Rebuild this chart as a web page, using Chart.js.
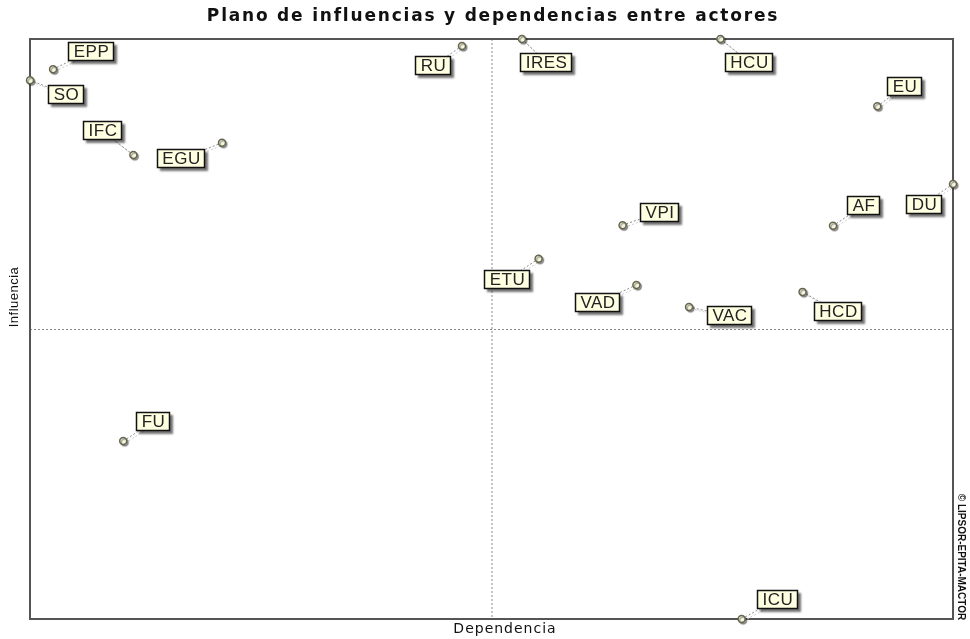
<!DOCTYPE html>
<html>
<head>
<meta charset="utf-8">
<script src="https://cdn.jsdelivr.net/npm/chart.js@4.4.1/dist/chart.umd.min.js"></script>
<style>
  body { margin: 0; background: #fff; }
</style>
</head>
<body>
<canvas id="actorsChart" width="970" height="639"></canvas>
<script>
// ---- DATA ----
const actors = ["EPP", "SO", "IFC", "EGU", "RU", "IRES", "HCU", "EU", "DU", "AF", "VPI", "ETU", "VAD", "VAC", "HCD", "ICU", "FU"];
const dependencia = [2.5, 0, 11.2, 20.8, 46.8, 53.3, 74.8, 91.8, 100, 87.0, 64.2, 55.1, 65.7, 71.4, 83.7, 77.1, 10.1];
const influencia = [94.8, 92.9, 80.0, 82.1, 98.8, 100, 100, 88.4, 75.0, 67.8, 67.9, 62.1, 57.6, 53.8, 56.4, 0, 30.7];
const axisMin = 0;
const axisMax = 100;
const axisMid = 50;

const chartTitle = "Plano de influencias y dependencias entre actores";
const xTitle = "Dependencia";
const yTitle = "Influencia";
const copyright = "\u00a9 LIPSOR-EPITA-MACTOR";

// where each tag box sits, relative to its point (px)
const labelOffsets = {
  EPP: [38, -18], SO: [36, 14], IFC: [-31, -24], EGU: [-41, 16], RU: [-29, 20],
  IRES: [24, 23], HCU: [29, 23], EU: [27, -20], DU: [-29, 20], AF: [30, -20],
  VPI: [37, -13], ETU: [-32, 21], VAD: [-39, 18], VAC: [40, 9], HCD: [35, 20],
  ICU: [36, -20], FU: [30, -19]
};

const points = actors.map((name, i) => ({ x: dependencia[i], y: influencia[i] }));

// ---- frame, quadrant lines, tags ----
const micmacPlugin = {
  id: "micmac",
  beforeDatasetsDraw(chart) {
    const { ctx, chartArea: a, scales } = chart;
    const midX = scales.x.getPixelForValue(axisMid);
    const midY = scales.y.getPixelForValue(axisMid);

    ctx.save();
    // dashed quadrant lines
    ctx.strokeStyle = "#8a8a8a";
    ctx.lineWidth = 1;
    ctx.setLineDash([2, 2]);
    ctx.beginPath();
    ctx.moveTo(midX + 0.5, a.top);
    ctx.lineTo(midX + 0.5, a.bottom);
    ctx.moveTo(a.left, midY + 0.5);
    ctx.lineTo(a.right, midY + 0.5);
    ctx.stroke();

    // frame
    ctx.setLineDash([]);
    ctx.strokeStyle = "#555";
    ctx.lineWidth = 2;
    ctx.strokeRect(a.left, a.top, a.right - a.left, a.bottom - a.top);

    // connectors from point to tag
    const meta = chart.getDatasetMeta(0);
    meta.data.forEach((pt, i) => {
      const off = labelOffsets[actors[i]];
      ctx.setLineDash([2, 2]);
      ctx.lineWidth = 1;
      ctx.strokeStyle = "#cccccc";
      ctx.beginPath();
      ctx.moveTo(pt.x + 2, pt.y + 2);
      ctx.lineTo(pt.x + off[0] + 2, pt.y + off[1] + 2);
      ctx.stroke();
      ctx.strokeStyle = "#8c8c8c";
      ctx.beginPath();
      ctx.moveTo(pt.x, pt.y);
      ctx.lineTo(pt.x + off[0], pt.y + off[1]);
      ctx.stroke();
    });
    ctx.restore();
  },
  beforeDatasetDraw(chart) {
    const ctx = chart.ctx;
    ctx.save();
    ctx.shadowColor = "rgba(0,0,0,0.35)";
    ctx.shadowOffsetX = 1.5;
    ctx.shadowOffsetY = 1.5;
    ctx.shadowBlur = 1;
  },
  afterDatasetDraw(chart) {
    chart.ctx.restore();
  },
  afterDatasetsDraw(chart) {
    const { ctx } = chart;
    const meta = chart.getDatasetMeta(0);
    ctx.save();
    ctx.font = '17px "Liberation Sans", Arial, sans-serif';
    ctx.letterSpacing = "0.5px";
    ctx.textAlign = "center";
    ctx.textBaseline = "middle";
    meta.data.forEach((pt, i) => {
      const name = actors[i];
      const off = labelOffsets[name];
      const w = Math.round(ctx.measureText(name).width + 10);
      const h = 19;
      const x = Math.round(pt.x + off[0] - w / 2);
      const y = Math.round(pt.y + off[1] - h / 2);

      ctx.shadowColor = "rgba(0,0,0,0.55)";
      ctx.shadowOffsetX = 3;
      ctx.shadowOffsetY = 3;
      ctx.shadowBlur = 2;
      ctx.fillStyle = "#ffffe1";
      ctx.fillRect(x, y, w, h);
      ctx.shadowColor = "transparent";

      ctx.strokeStyle = "#111";
      ctx.lineWidth = 1.5;
      ctx.strokeRect(x + 0.5, y + 0.5, w - 1, h - 1);

      ctx.fillStyle = "#222";
      ctx.fillText(name, x + w / 2 + 0.5, y + h / 2 + 1);
    });
    ctx.restore();
  },
  afterDraw(chart) {
    const { ctx } = chart;
    ctx.save();
    ctx.fillStyle = "#111";
    ctx.textAlign = "center";
    ctx.textBaseline = "middle";

    ctx.font = 'bold 17px "DejaVu Sans", sans-serif';
    ctx.letterSpacing = "1.8px";
    ctx.fillText(chartTitle, 493, 17);

    ctx.font = '14px "DejaVu Sans", sans-serif';
    ctx.letterSpacing = "1px";
    ctx.fillText(xTitle, 505, 629);

    ctx.save();
    ctx.translate(14, 297);
    ctx.rotate(-Math.PI / 2);
    ctx.font = '13px "Liberation Sans", sans-serif';
    ctx.letterSpacing = "0.5px";
    ctx.fillText(yTitle, 0, 0);
    ctx.restore();

    ctx.save();
    ctx.translate(961, 557);
    ctx.rotate(Math.PI / 2);
    ctx.font = 'bold 10px "Liberation Sans Narrow", "Liberation Sans", sans-serif';
    ctx.letterSpacing = "0px";
    ctx.fillText(copyright, 0, 0);
    ctx.restore();

    ctx.restore();
  }
};

const ctx = document.getElementById("actorsChart").getContext("2d");
new Chart(ctx, {
  type: "scatter",
  data: {
    datasets: [{
      label: "Actores",
      data: points,
      pointRadius: 3.5,
      pointHoverRadius: 3.5,
      pointBorderWidth: 1.5,
      pointBorderColor: "#66664f",
      pointBackgroundColor: "#f6f6e0",
      clip: false
    }]
  },
  options: {
    responsive: false,
    animation: false,
    devicePixelRatio: 1,
    layout: { padding: { left: 30, right: 17, top: 39, bottom: 20 } },
    plugins: {
      legend: { display: false },
      tooltip: { enabled: false },
      title: { display: false }
    },
    scales: {
      x: { type: "linear", min: axisMin, max: axisMax, display: false },
      y: { type: "linear", min: axisMin, max: axisMax, display: false }
    }
  },
  plugins: [micmacPlugin]
});
</script>
</body>
</html>
